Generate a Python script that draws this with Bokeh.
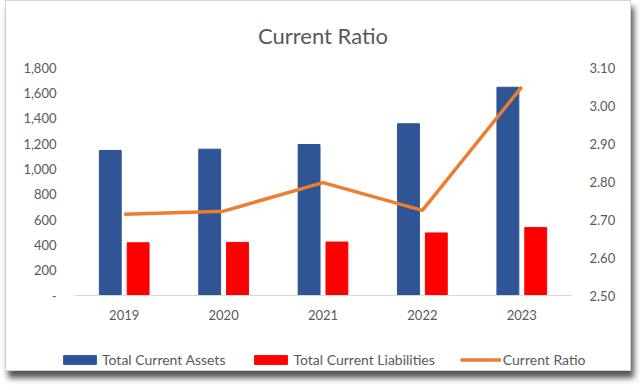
from bokeh.plotting import figure
from bokeh.layouts import column
from bokeh.models import (FactorRange, Range1d, LinearAxis, FixedTicker, Legend, LegendItem,
                          ColumnDataSource, NumeralTickFormatter)
from bokeh.transform import dodge
from bokeh.embed import file_html
from bokeh.resources import INLINE

years = ["2019", "2020", "2021", "2022", "2023"]
total_current_assets = [1145, 1155, 1192, 1356, 1644]
total_current_liabilities = [416, 419, 422, 494, 536]
current_ratio = [2.714, 2.722, 2.797, 2.724, 3.049]
left_ticks = [0, 200, 400, 600, 800, 1000, 1200, 1400, 1600, 1800]
right_ticks = [2.5, 2.6, 2.7, 2.8, 2.9, 3.0, 3.1]

src = ColumnDataSource(dict(year=years, assets=total_current_assets,
                            liab=total_current_liabilities, ratio=current_ratio))

FONT = "Lato"
GREY = "#595959"
BLUE = "#2F5597"
RED = "#FF0000"
ORANGE = "#ED7D31"

p = figure(x_range=FactorRange(*years), y_range=Range1d(0, 1800),
           width=624, height=330, output_backend="svg", toolbar_location=None,
           min_border_left=68, min_border_right=59, min_border_top=63, min_border_bottom=36)
p.outline_line_color = None
p.grid.visible = False
p.background_fill_color = "white"
p.border_fill_color = "white"

p.title.text = "Current Ratio"
p.title.align = "center"
p.title.text_font = FONT
p.title.text_font_size = "22px"
p.title.text_font_style = "normal"
p.title.text_color = GREY
p.title.standoff = 37

p.extra_y_ranges = {"ratio": Range1d(2.5, 3.1)}

p.vbar(x=dodge("year", -0.14, range=p.x_range), top="assets", width=0.22,
       source=src, color=BLUE)
p.vbar(x=dodge("year", 0.14, range=p.x_range), top="liab", width=0.22,
       source=src, color=RED)
p.line(x="year", y="ratio", source=src, y_range_name="ratio",
       line_color=ORANGE, line_width=3.5)

ya = p.yaxis[0]
ya.ticker = FixedTicker(ticks=left_ticks)
ya.formatter = NumeralTickFormatter(format="0,0")
ya.major_label_overrides = {0: "-"}
ya.axis_line_color = None
ya.major_tick_line_color = None
ya.minor_tick_line_color = None
ya.major_label_text_font = FONT
ya.major_label_text_font_size = "13px"
ya.major_label_text_color = GREY
ya.major_label_standoff = 12

ra = LinearAxis(y_range_name="ratio", ticker=FixedTicker(ticks=right_ticks),
                formatter=NumeralTickFormatter(format="0.00"))
ra.axis_line_color = None
ra.major_tick_line_color = None
ra.minor_tick_line_color = None
ra.major_label_text_font = FONT
ra.major_label_text_font_size = "13px"
ra.major_label_text_color = GREY
ra.major_label_standoff = 12
p.add_layout(ra, "right")

xa = p.xaxis[0]
xa.axis_line_color = "#d9d9d9"
xa.major_tick_line_color = None
xa.minor_tick_line_color = None
xa.major_label_text_font = FONT
xa.major_label_text_font_size = "13px"
xa.major_label_text_color = GREY
xa.major_label_standoff = 8

# legend strip below the chart (its series renderers sit far outside the visible range)
lg = figure(x_range=FactorRange(*years), y_range=Range1d(100000, 101000),
            width=624, height=39, output_backend="svg", toolbar_location=None,
            x_axis_location=None, y_axis_location=None,
            min_border_left=0, min_border_right=0, min_border_top=0, min_border_bottom=0)
lg.outline_line_color = None
lg.grid.visible = False
lg.border_fill_color = "white"
lg.background_fill_color = "white"
lg.extra_y_ranges = {"ratio": Range1d(100, 101)}
r1 = lg.vbar(x="year", top="assets", width=0.22, source=src, color=BLUE)
r2 = lg.vbar(x="year", top="liab", width=0.22, source=src, color=RED)
r3 = lg.line(x="year", y="ratio", source=src, y_range_name="ratio",
             line_color=ORANGE, line_width=3.5)

for fig in (p, lg):
    if "frame_align" in fig.properties():
        fig.frame_align = False

legend = Legend(items=[LegendItem(label="Total Current Assets", renderers=[r1]),
                       LegendItem(label="Total Current Liabilities", renderers=[r2]),
                       LegendItem(label="Current Ratio", renderers=[r3])],
                orientation="horizontal", location=(53, 2),
                label_text_font=FONT, label_text_font_size="14px", label_text_color=GREY,
                glyph_width=41, glyph_height=11, label_standoff=2, spacing=25,
                border_line_color=None, background_fill_alpha=0, margin=0, padding=4)
lg.add_layout(legend, "center")

layout = column(p, lg, spacing=0)
layout.styles = {"border": "1px solid #d4d4d4", "box-shadow": "3px 7px 6px #555555",
                 "margin-left": "5px", "background": "white"}

open("out.html", "w").write(file_html(layout, INLINE))
